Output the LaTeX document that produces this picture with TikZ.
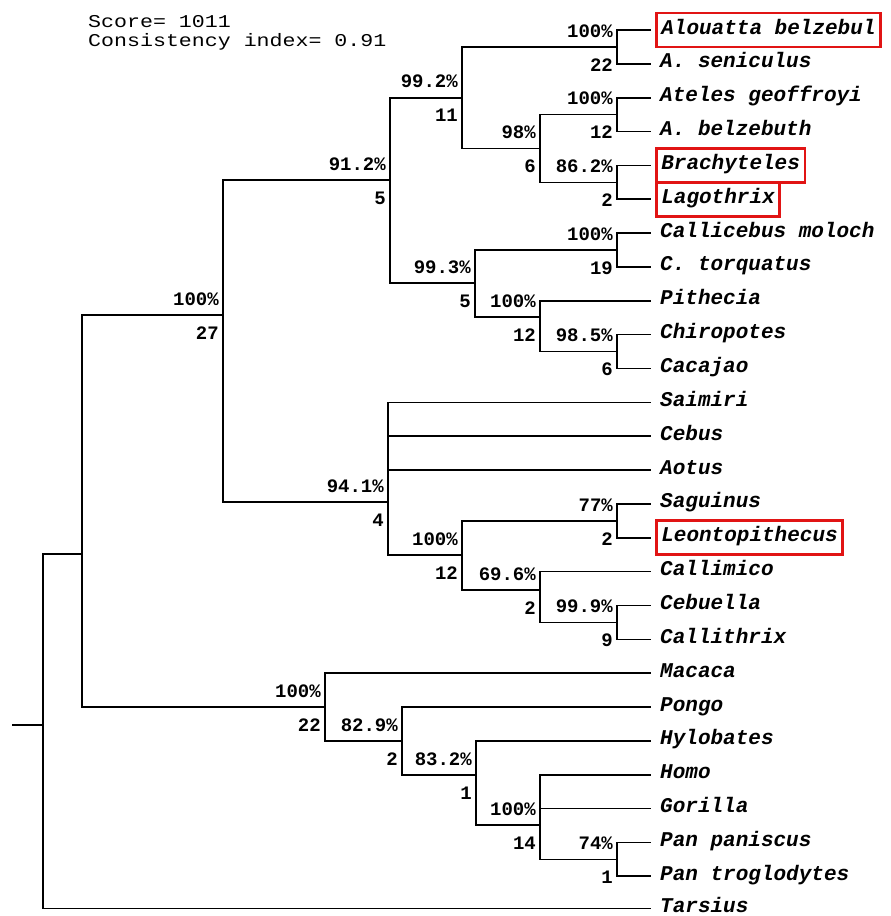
\documentclass[tikz,border=0pt]{standalone}
\usepackage{fontspec}
\newfontfamily\monofnt{Liberation Mono}
\definecolor{boxred}{RGB}{225,20,20}
\newcommand{\TreeNode}[5]{%
  \coordinate (#1) at (#2,#3);
  \node[pct] (#1p) at ([shift={(-4pt,16pt)}]#1) {#4};
  \node[pct] (#1c) at ([shift={(-4pt,-18pt)}]#1) {#5};}
\begin{document}
\begin{tikzpicture}[x=1pt,y=-1pt,
  branch/.style={line width=1.6pt, line join=miter, line cap=rect},
  taxon/.style={anchor=west, font=\monofnt\bfseries\itshape\fontsize{21}{24}\selectfont,
    inner xsep=5pt, inner ysep=1pt, text height=13pt, text depth=5pt},
  boxed/.style={draw=boxred, line width=2.6pt, inner ysep=8pt},
  pct/.style={anchor=east, font=\monofnt\bfseries\fontsize{19}{22}\selectfont, inner sep=0pt},
  header/.style={anchor=west, font=\monofnt\fontsize{18}{20}\selectfont, inner sep=0pt, xscale=1.2}]
\useasboundingbox (0,0) rectangle (891,916);

% header
\node[header] (score) at (88,22) {Score= 1011};
\node[header] (ci) at (88,42) {Consistency index= 0.91};

% taxa
\node[taxon,boxed] (t0) at (655,30.0) {Alouatta belzebul};
\node[taxon] (t1) at (655,63.85) {A. seniculus};
\node[taxon] (t2) at (655,97.7) {Ateles geoffroyi};
\node[taxon] (t3) at (655,131.55) {A. belzebuth};
\node[taxon,boxed] (t4) at (655,165.4) {Brachyteles};
\node[taxon,boxed] (t5) at (655,199.25) {Lagothrix};
\node[taxon] (t6) at (655,233.1) {Callicebus moloch};
\node[taxon] (t7) at (655,266.95) {C. torquatus};
\node[taxon] (t8) at (655,300.8) {Pithecia};
\node[taxon] (t9) at (655,334.65) {Chiropotes};
\node[taxon] (t10) at (655,368.5) {Cacajao};
\node[taxon] (t11) at (655,402.35) {Saimiri};
\node[taxon] (t12) at (655,436.2) {Cebus};
\node[taxon] (t13) at (655,470.05) {Aotus};
\node[taxon] (t14) at (655,503.9) {Saguinus};
\node[taxon,boxed] (t15) at (655,537.75) {Leontopithecus};
\node[taxon] (t16) at (655,571.6) {Callimico};
\node[taxon] (t17) at (655,605.45) {Cebuella};
\node[taxon] (t18) at (655,639.3) {Callithrix};
\node[taxon] (t19) at (655,673.15) {Macaca};
\node[taxon] (t20) at (655,707.0) {Pongo};
\node[taxon] (t21) at (655,740.85) {Hylobates};
\node[taxon] (t22) at (655,774.7) {Homo};
\node[taxon] (t23) at (655,808.55) {Gorilla};
\node[taxon] (t24) at (655,842.4) {Pan paniscus};
\node[taxon] (t25) at (655,876.25) {Pan troglodytes};
\node[taxon] (t26) at (655,908.5) {Tarsius};

% internal nodes with support labels
\TreeNode{aloua}{617}{46.9}{100\%}{22}
\TreeNode{ateles}{617}{114.6}{100\%}{12}
\TreeNode{brla}{617}{182.3}{86.2\%}{2}
\TreeNode{atbrla}{540}{148.5}{98\%}{6}
\TreeNode{atel}{462}{97.7}{99.2\%}{11}
\TreeNode{calli}{617}{250}{100\%}{19}
\TreeNode{chica}{617}{351.6}{98.5\%}{6}
\TreeNode{pith}{540}{317}{100\%}{12}
\TreeNode{pithec}{475}{283}{99.3\%}{5}
\TreeNode{atpi}{390}{180}{91.2\%}{5}
\TreeNode{sagleo}{617}{520.8}{77\%}{2}
\TreeNode{cebcal}{617}{622.4}{99.9\%}{9}
\TreeNode{callim}{540}{590}{69.6\%}{2}
\TreeNode{callit}{462}{555}{100\%}{12}
\TreeNode{cebid}{388}{502}{94.1\%}{4}
\TreeNode{platy}{223}{315}{100\%}{27}
\TreeNode{pan}{617}{859.3}{74\%}{1}
\TreeNode{hgp}{540}{825}{100\%}{14}
\TreeNode{hyl}{476}{775}{83.2\%}{1}
\TreeNode{homin}{402}{741}{82.9\%}{2}
\TreeNode{catar}{325}{707}{100\%}{22}
\coordinate (anthro) at (82,554);
\coordinate (root) at (43,725);
\coordinate (stub) at (13,725);

% branches
\begin{scope}[branch]
\draw ([xshift=-5pt]t0.west) -| (aloua);
\draw ([xshift=-5pt]t1.west) -| (aloua);
\draw ([xshift=-5pt]t2.west) -| (ateles);
\draw ([xshift=-5pt]t3.west) -| (ateles);
\draw ([xshift=-5pt]t4.west) -| (brla);
\draw ([xshift=-5pt]t5.west) -| (brla);
\draw (ateles) -| (atbrla);
\draw (brla) -| (atbrla);
\draw (aloua) -| (atel);
\draw (atbrla) -| (atel);
\draw ([xshift=-5pt]t6.west) -| (calli);
\draw ([xshift=-5pt]t7.west) -| (calli);
\draw ([xshift=-5pt]t9.west) -| (chica);
\draw ([xshift=-5pt]t10.west) -| (chica);
\draw ([xshift=-5pt]t8.west) -| (pith);
\draw (chica) -| (pith);
\draw (calli) -| (pithec);
\draw (pith) -| (pithec);
\draw (atel) -| (atpi);
\draw (pithec) -| (atpi);
\draw ([xshift=-5pt]t14.west) -| (sagleo);
\draw ([xshift=-5pt]t15.west) -| (sagleo);
\draw ([xshift=-5pt]t17.west) -| (cebcal);
\draw ([xshift=-5pt]t18.west) -| (cebcal);
\draw ([xshift=-5pt]t16.west) -| (callim);
\draw (cebcal) -| (callim);
\draw (sagleo) -| (callit);
\draw (callim) -| (callit);
\draw ([xshift=-5pt]t11.west) -| (cebid);
\draw ([xshift=-5pt]t12.west) -| (cebid);
\draw ([xshift=-5pt]t13.west) -| (cebid);
\draw (callit) -| (cebid);
\draw (atpi) -| (platy);
\draw (cebid) -| (platy);
\draw ([xshift=-5pt]t24.west) -| (pan);
\draw ([xshift=-5pt]t25.west) -| (pan);
\draw ([xshift=-5pt]t22.west) -| (hgp);
\draw ([xshift=-5pt]t23.west) -| (hgp);
\draw (pan) -| (hgp);
\draw ([xshift=-5pt]t21.west) -| (hyl);
\draw (hgp) -| (hyl);
\draw ([xshift=-5pt]t20.west) -| (homin);
\draw (hyl) -| (homin);
\draw ([xshift=-5pt]t19.west) -| (catar);
\draw (homin) -| (catar);
\draw (platy) -| (anthro);
\draw (catar) -| (anthro);
\draw (anthro) -| (root);
\draw ([xshift=-5pt]t26.west) -| (root);
\draw (stub) -- (root);
\end{scope}
\end{tikzpicture}
\end{document}
